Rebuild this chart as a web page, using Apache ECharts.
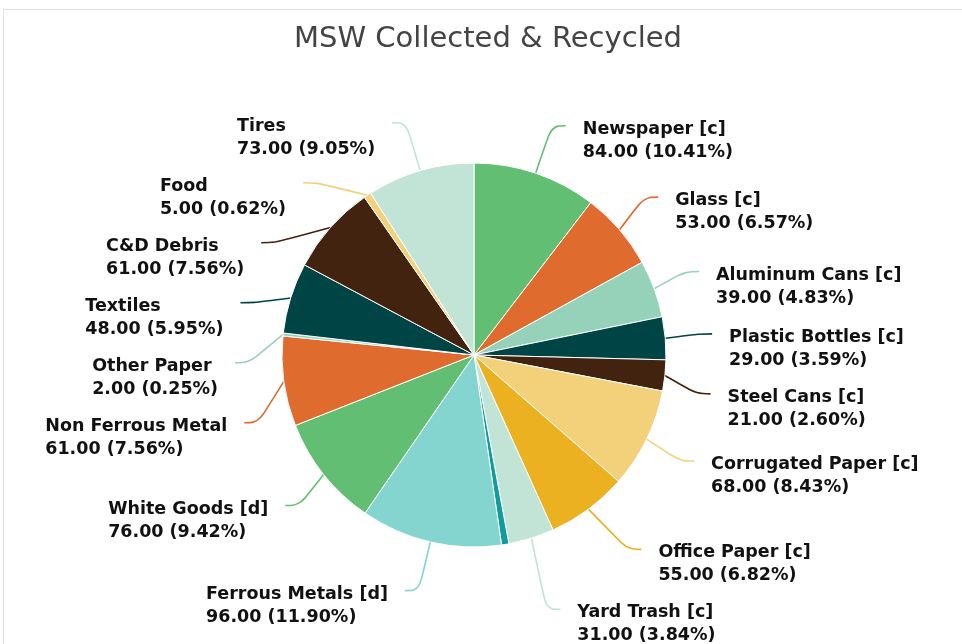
<!DOCTYPE html>
<html>
<head>
<meta charset="utf-8">
<script src="https://cdn.jsdelivr.net/npm/echarts@6/dist/echarts.min.js"></script>
<style>
	body { margin: 0; background: #fff; }
	#main { position: absolute; left: 3px; top: 9px; width: 968px; height: 700px; border: 1px solid #e0e0e0; }
</style>
</head>
<body>
<div id="main"></div>
<script>
// 数据
var names = [ 'Newspaper [c]', 'Glass [c]', 'Aluminum Cans [c]', 'Plastic Bottles [c]', 'Steel Cans [c]',
		'Corrugated Paper [c]', 'Office Paper [c]', 'Yard Trash [c]', 'Other', 'Ferrous Metals [d]',
		'White Goods [d]', 'Non Ferrous Metal', 'Other Paper', 'Textiles', 'C&D Debris', 'Food', 'Tires' ];
var values = [ 84, 53, 39, 29, 21, 68, 55, 31, 5, 96, 76, 61, 2, 48, 61, 5, 73 ];
var colors = [ '#62be73', '#e06b2f', '#96d2b9', '#004445', '#42230f', '#f3d07a', '#ecb120', '#c1e4d7',
		'#0e9c9c', '#84d4d0', '#62be73', '#e06b2f', '#96d2b9', '#004445', '#42230f', '#f3d07a', '#c1e4d7' ];
var hiddenLabels = [ 'Other' ];

var myChart = echarts.init(document.getElementById('main'));

var total = 0;
for (var i = 0; i < values.length; i++) {
	total += values[i];
}

var pieData = [];
for (var i = 0; i < names.length; i++) {
	var item = {
		name : names[i],
		value : values[i],
		itemStyle : { color : colors[i] }
	};
	if (hiddenLabels.indexOf(names[i]) >= 0) {
		item.label = { show : false };
		item.labelLine = { show : false };
	}
	pieData.push(item);
}

var option = {
	animation : false,
	title : {
		text : 'MSW Collected & Recycled',
		left : 'center',
		top : 10,
		textStyle : {
			fontFamily : 'DejaVu Sans',
			fontWeight : 'normal',
			fontSize : 29,
			color : '#444'
		}
	},
	series : [ {
		type : 'pie',
		center : [ 470, 345 ],
		radius : 192,
		startAngle : 90,
		clockwise : true,
		itemStyle : {
			borderColor : '#fff',
			borderWidth : 1
		},
		label : {
			show : true,
			position : 'outside',
			distanceToLabelLine : 17,
			padding : [ 30, 0, 0, 0 ],
			minMargin : 19,
			formatter : function(p) {
				// 百分比直接四舍五入
				var pct = (p.value / total * 100).toFixed(2);
				return '{t|' + p.name + '}\n{t|' + p.value.toFixed(2) + ' (' + pct + '%)}';
			},
			rich : {
				t : {
					align : 'left',
					fontFamily : 'DejaVu Sans',
					fontWeight : 'bold',
					fontSize : 17.5,
					lineHeight : 23,
					color : '#111'
				}
			}
		},
		labelLine : {
			show : true,
			length : 50,
			length2 : 14,
			smooth : 0.4,
			lineStyle : { width : 1.6 }
		},
		data : pieData
	} ]
};

myChart.setOption(option);
</script>
</body>
</html>
